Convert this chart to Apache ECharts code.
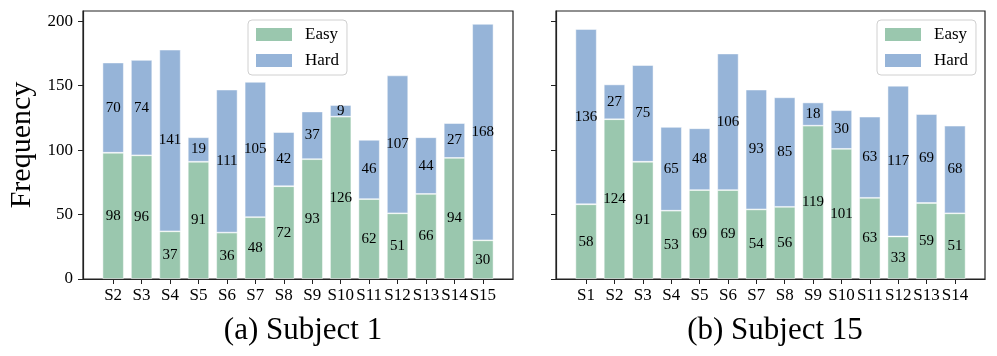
<!DOCTYPE html>
<html>
<head>
<meta charset="utf-8">
<script src="https://cdn.jsdelivr.net/npm/echarts@6/dist/echarts.min.js"></script>
<style>
  html, body { margin: 0; padding: 0; background: #fff; }
  #chart { width: 997px; height: 356px; }
</style>
</head>
<body>
<div id="chart"></div>
<script>
// Subject 1
const subj1Names = ['S2', 'S3', 'S4', 'S5', 'S6', 'S7', 'S8', 'S9', 'S10', 'S11', 'S12', 'S13', 'S14', 'S15']
const subj1Easy = [98, 96, 37, 91, 36, 48, 72, 93, 126, 62, 51, 66, 94, 30]
const subj1Hard = [70, 74, 141, 19, 111, 105, 42, 37, 9, 46, 107, 44, 27, 168]

// Subject 15
const subj15Names = ['S1', 'S2', 'S3', 'S4', 'S5', 'S6', 'S7', 'S8', 'S9', 'S10', 'S11', 'S12', 'S13', 'S14']
const subj15Easy = [58, 124, 91, 53, 69, 69, 54, 56, 119, 101, 63, 33, 59, 51]
const subj15Hard = [136, 27, 75, 65, 48, 106, 93, 85, 18, 30, 63, 117, 69, 68]

const yTicks = [0, 50, 100, 150, 200]

const serif = '"Liberation Serif", "DejaVu Serif", serif'
const green = '#9ac7ae'
const blue = '#96b4d8'
const frame = '#222'

const chart = echarts.init(document.getElementById('chart'))

const idx = arr => arr.map((_, i) => i)

const makeX = (gridIndex, names) => ({
  type: 'value',
  gridIndex,
  min: -1.06,
  max: 14.06,
  splitLine: { show: false },
  axisLine: { show: true, onZero: false, lineStyle: { color: frame, width: 1.2 } },
  axisTick: { show: true, inside: false, length: 5, customValues: idx(names), lineStyle: { color: frame } },
  axisLabel: {
    customValues: idx(names),
    formatter: v => names[Math.round(v)] || '',
    color: '#000',
    fontFamily: serif,
    fontSize: 17,
    margin: 8
  }
})

const makeY = (gridIndex, showLabels) => ({
  type: 'value',
  gridIndex,
  min: 0,
  max: 208,
  name: showLabels ? 'Frequency' : '',
  nameLocation: 'middle',
  nameGap: 46,
  nameTextStyle: { fontFamily: serif, fontSize: 30, color: '#000' },
  splitLine: { show: false },
  axisLine: { show: true, onZero: false, lineStyle: { color: frame, width: 1.2 } },
  axisTick: { show: true, length: 5, customValues: yTicks, lineStyle: { color: frame } },
  axisLabel: {
    show: showLabels,
    customValues: yTicks,
    color: '#000',
    fontFamily: serif,
    fontSize: 17,
    margin: 10
  }
})

// data rows are [value, index] so the stacked dimension is the y value
const makeBars = (axisIndex, name, values, color, stack) => ({
  name,
  type: 'bar',
  xAxisIndex: axisIndex,
  yAxisIndex: axisIndex,
  stack,
  barWidth: 21.3,
  encode: { x: 1, y: 0 },
  data: values.map((v, i) => [v, i]),
  itemStyle: { color, borderColor: 'rgba(255,255,255,0.6)', borderWidth: 0.8 },
  label: {
    show: true,
    position: 'inside',
    formatter: p => p.value[0],
    color: '#000',
    fontFamily: serif,
    fontSize: 15
  }
})

const makeLegend = left => ({
  orient: 'vertical',
  left,
  top: 20,
  data: ['Easy', 'Hard'],
  itemWidth: 36,
  itemHeight: 13,
  itemGap: 9,
  padding: [6, 8, 6, 8],
  borderColor: '#d0d0d0',
  borderWidth: 1,
  borderRadius: 4,
  backgroundColor: 'rgba(255,255,255,0.8)',
  selectedMode: false,
  icon: 'rect',
  itemStyle: { borderWidth: 0 },
  textStyle: { fontFamily: serif, fontSize: 17, color: '#000', padding: [0, 0, 0, 8] }
})

const titleStyle = { fontFamily: serif, fontSize: 31, fontWeight: 'normal', color: '#000' }

const option = {
  backgroundColor: '#fff',
  animation: false,
  title: [
    { text: '(a) Subject 1', left: 298, top: 310, textAlign: 'center', textStyle: titleStyle },
    { text: '(b) Subject 15', left: 770, top: 310, textAlign: 'center', textStyle: titleStyle }
  ],
  legend: [makeLegend(248), makeLegend(877)],
  grid: [
    { left: 83, top: 11, width: 430, height: 268, show: true, borderColor: frame, borderWidth: 1.2, backgroundColor: 'transparent' },
    { left: 556, top: 11, width: 429, height: 268, show: true, borderColor: frame, borderWidth: 1.2, backgroundColor: 'transparent' }
  ],
  xAxis: [makeX(0, subj1Names), makeX(1, subj15Names)],
  yAxis: [makeY(0, true), makeY(1, false)],
  series: [
    makeBars(0, 'Easy', subj1Easy, green, 's1'),
    makeBars(0, 'Hard', subj1Hard, blue, 's1'),
    makeBars(1, 'Easy', subj15Easy, green, 's15'),
    makeBars(1, 'Hard', subj15Hard, blue, 's15')
  ]
}

chart.setOption(option)
</script>
</body>
</html>
